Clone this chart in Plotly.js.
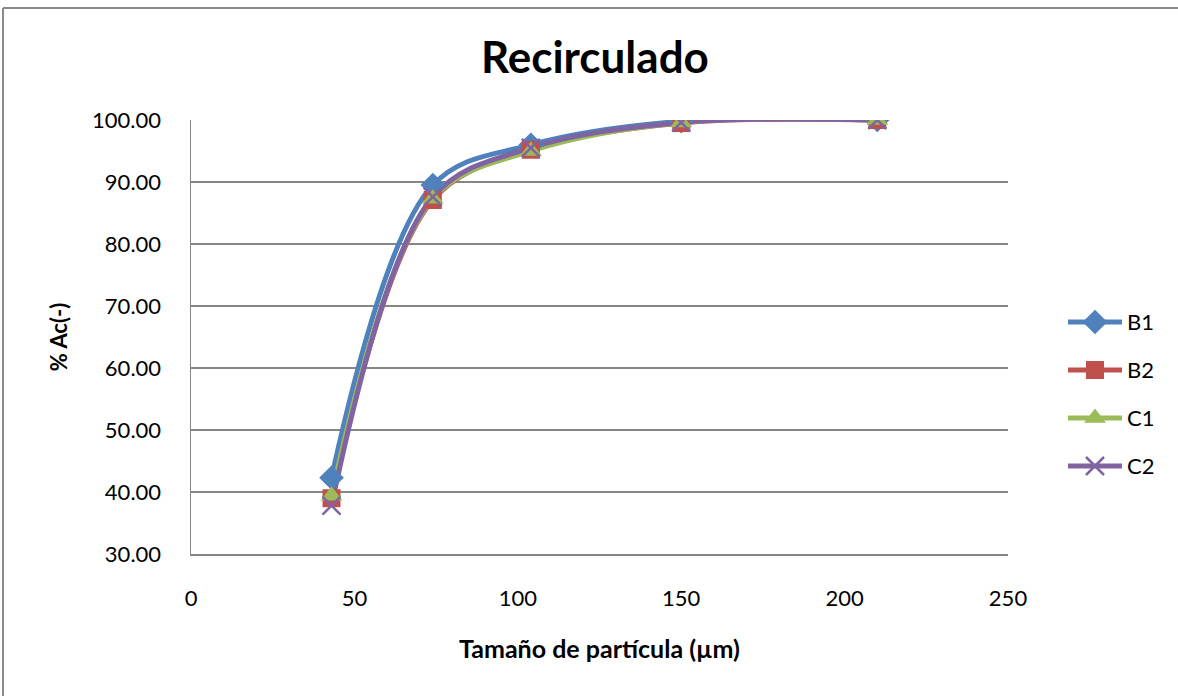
<!DOCTYPE html>
<html><head><meta charset="utf-8">
<script src="https://cdn.plot.ly/plotly-3.0.1.min.js"></script>
<style>
html,body{margin:0;padding:0;background:#fff;overflow:hidden;width:1178px;height:696px;}
#chart{width:1178px;height:696px;position:absolute;left:0;top:0;}
</style></head>
<body>
<div id="chart"></div>
<script>
const sizes = [43, 74, 104, 150, 210];
const B1 = [42.3, 89.5, 96.0, 99.8, 100.0];
const B2 = [39.0, 87.1, 95.2, 99.5, 100.0];
const C1 = [39.4, 87.3, 95.0, 99.6, 100.0];
const C2 = [37.8, 87.6, 95.5, 99.6, 100.0];
const names = ['B1','B2','C1','C2'];
const series = [B1, B2, C1, C2];
const xTicks = [0, 50, 100, 150, 200, 250];
const yTicks = [30, 40, 50, 60, 70, 80, 90, 100];
const colors = ['#4F81BD','#C0504D','#9BBB59','#8064A2'];
const symbols = ['diamond','square','triangle-up','x-thin'];
const msizes = [19, 18, 19, 18];

const W = 1178, H = 696;
const font = 'Lato, "Open Sans", sans-serif';
const traces = [];
// lines first
series.forEach((ys, i) => traces.push({
  x: sizes, y: ys, name: names[i], type: 'scatter', mode: 'lines', showlegend: false,
  line: {color: colors[i], width: 5, shape: 'spline', smoothing: 1}
}));
// markers on top
series.forEach((ys, i) => traces.push({
  x: sizes, y: ys, name: names[i], type: 'scatter', mode: 'markers', showlegend: false,
  marker: {symbol: symbols[i], size: msizes[i], color: colors[i],
           line: {color: colors[i], width: i === 3 ? 2.5 : 0}}
}));
// legend drawn on its own small axes
const annotations = [];
names.forEach((n, i) => {
  traces.push({
    x: [0, 1], y: [i, i], xaxis: 'x2', yaxis: 'y2', type: 'scatter', mode: 'lines', showlegend: false,
    line: {color: colors[i], width: 5}
  });
  traces.push({
    x: [0.5], y: [i], xaxis: 'x2', yaxis: 'y2', type: 'scatter', mode: 'markers', showlegend: false,
    marker: {symbol: symbols[i], size: msizes[i], color: colors[i],
             line: {color: colors[i], width: i === 3 ? 2.5 : 0}}
  });
  annotations.push({
    xref: 'x2', yref: 'y2', x: 1, y: i, text: n, showarrow: false,
    xanchor: 'left', yanchor: 'middle', xshift: 3,
    font: {family: font, size: 22, color: '#000'}
  });
});

const hidden = {visible: false, showgrid: false, zeroline: false, fixedrange: true};
const layout = {
  width: W, height: H,
  margin: {l: 0, r: 0, t: 0, b: 0},
  paper_bgcolor: '#fff', plot_bgcolor: 'rgba(0,0,0,0)',
  font: {family: font, size: 22, color: '#000'},
  showlegend: false,
  title: {text: '<b>Recirculado</b>', font: {family: font, size: 44, color: '#000'},
          xref: 'paper', yref: 'paper', x: 0.505, xanchor: 'center', y: 1 - 58 / H, yanchor: 'middle'},
  xaxis: {
    domain: [191 / W, 1008 / W], anchor: 'y', automargin: false,
    range: [0, 250], tickvals: xTicks, ticktext: xTicks.map(String),
    showgrid: false, zeroline: false, showline: true, linecolor: '#868686', linewidth: 1.5,
    ticks: '', ticklabelstandoff: 24,
    tickfont: {family: font, size: 22, color: '#000'},
    title: {text: '<b>Tamaño de partícula (µm)</b>', font: {family: font, size: 25, color: '#000'}, standoff: 30}
  },
  yaxis: {
    domain: [142 / H, 576 / H], anchor: 'x', automargin: false,
    range: [30, 100], tickvals: yTicks, tickformat: '.2f',
    showgrid: true, gridcolor: '#868686', gridwidth: 1.2, zeroline: false,
    showline: true, linecolor: '#868686', linewidth: 1.5,
    ticks: '', ticklabelstandoff: 24,
    tickfont: {family: font, size: 22, color: '#000'},
    title: {text: '<b>% Ac(-)</b>', font: {family: font, size: 22, color: '#000'}, standoff: 18}
  },
  xaxis2: Object.assign({domain: [1068 / W, 1122 / W], anchor: 'y2', range: [0, 1]}, hidden),
  yaxis2: Object.assign({domain: [(H - 490) / H, (H - 298) / H], anchor: 'x2', range: [3.5, -0.5]}, hidden),
  annotations: annotations,
  shapes: [
    {type: 'line', xref: 'paper', yref: 'paper', x0: 3 / W, x1: 3 / W, y0: 0, y1: 1 - 8 / H,
     line: {color: '#8a8a8a', width: 2}},
    {type: 'line', xref: 'paper', yref: 'paper', x0: 3 / W, x1: 1, y0: 1 - 8 / H, y1: 1 - 8 / H,
     line: {color: '#8a8a8a', width: 2}}
  ]
};
Plotly.newPlot('chart', traces, layout, {displayModeBar: false, staticPlot: true});
</script>
</body></html>
